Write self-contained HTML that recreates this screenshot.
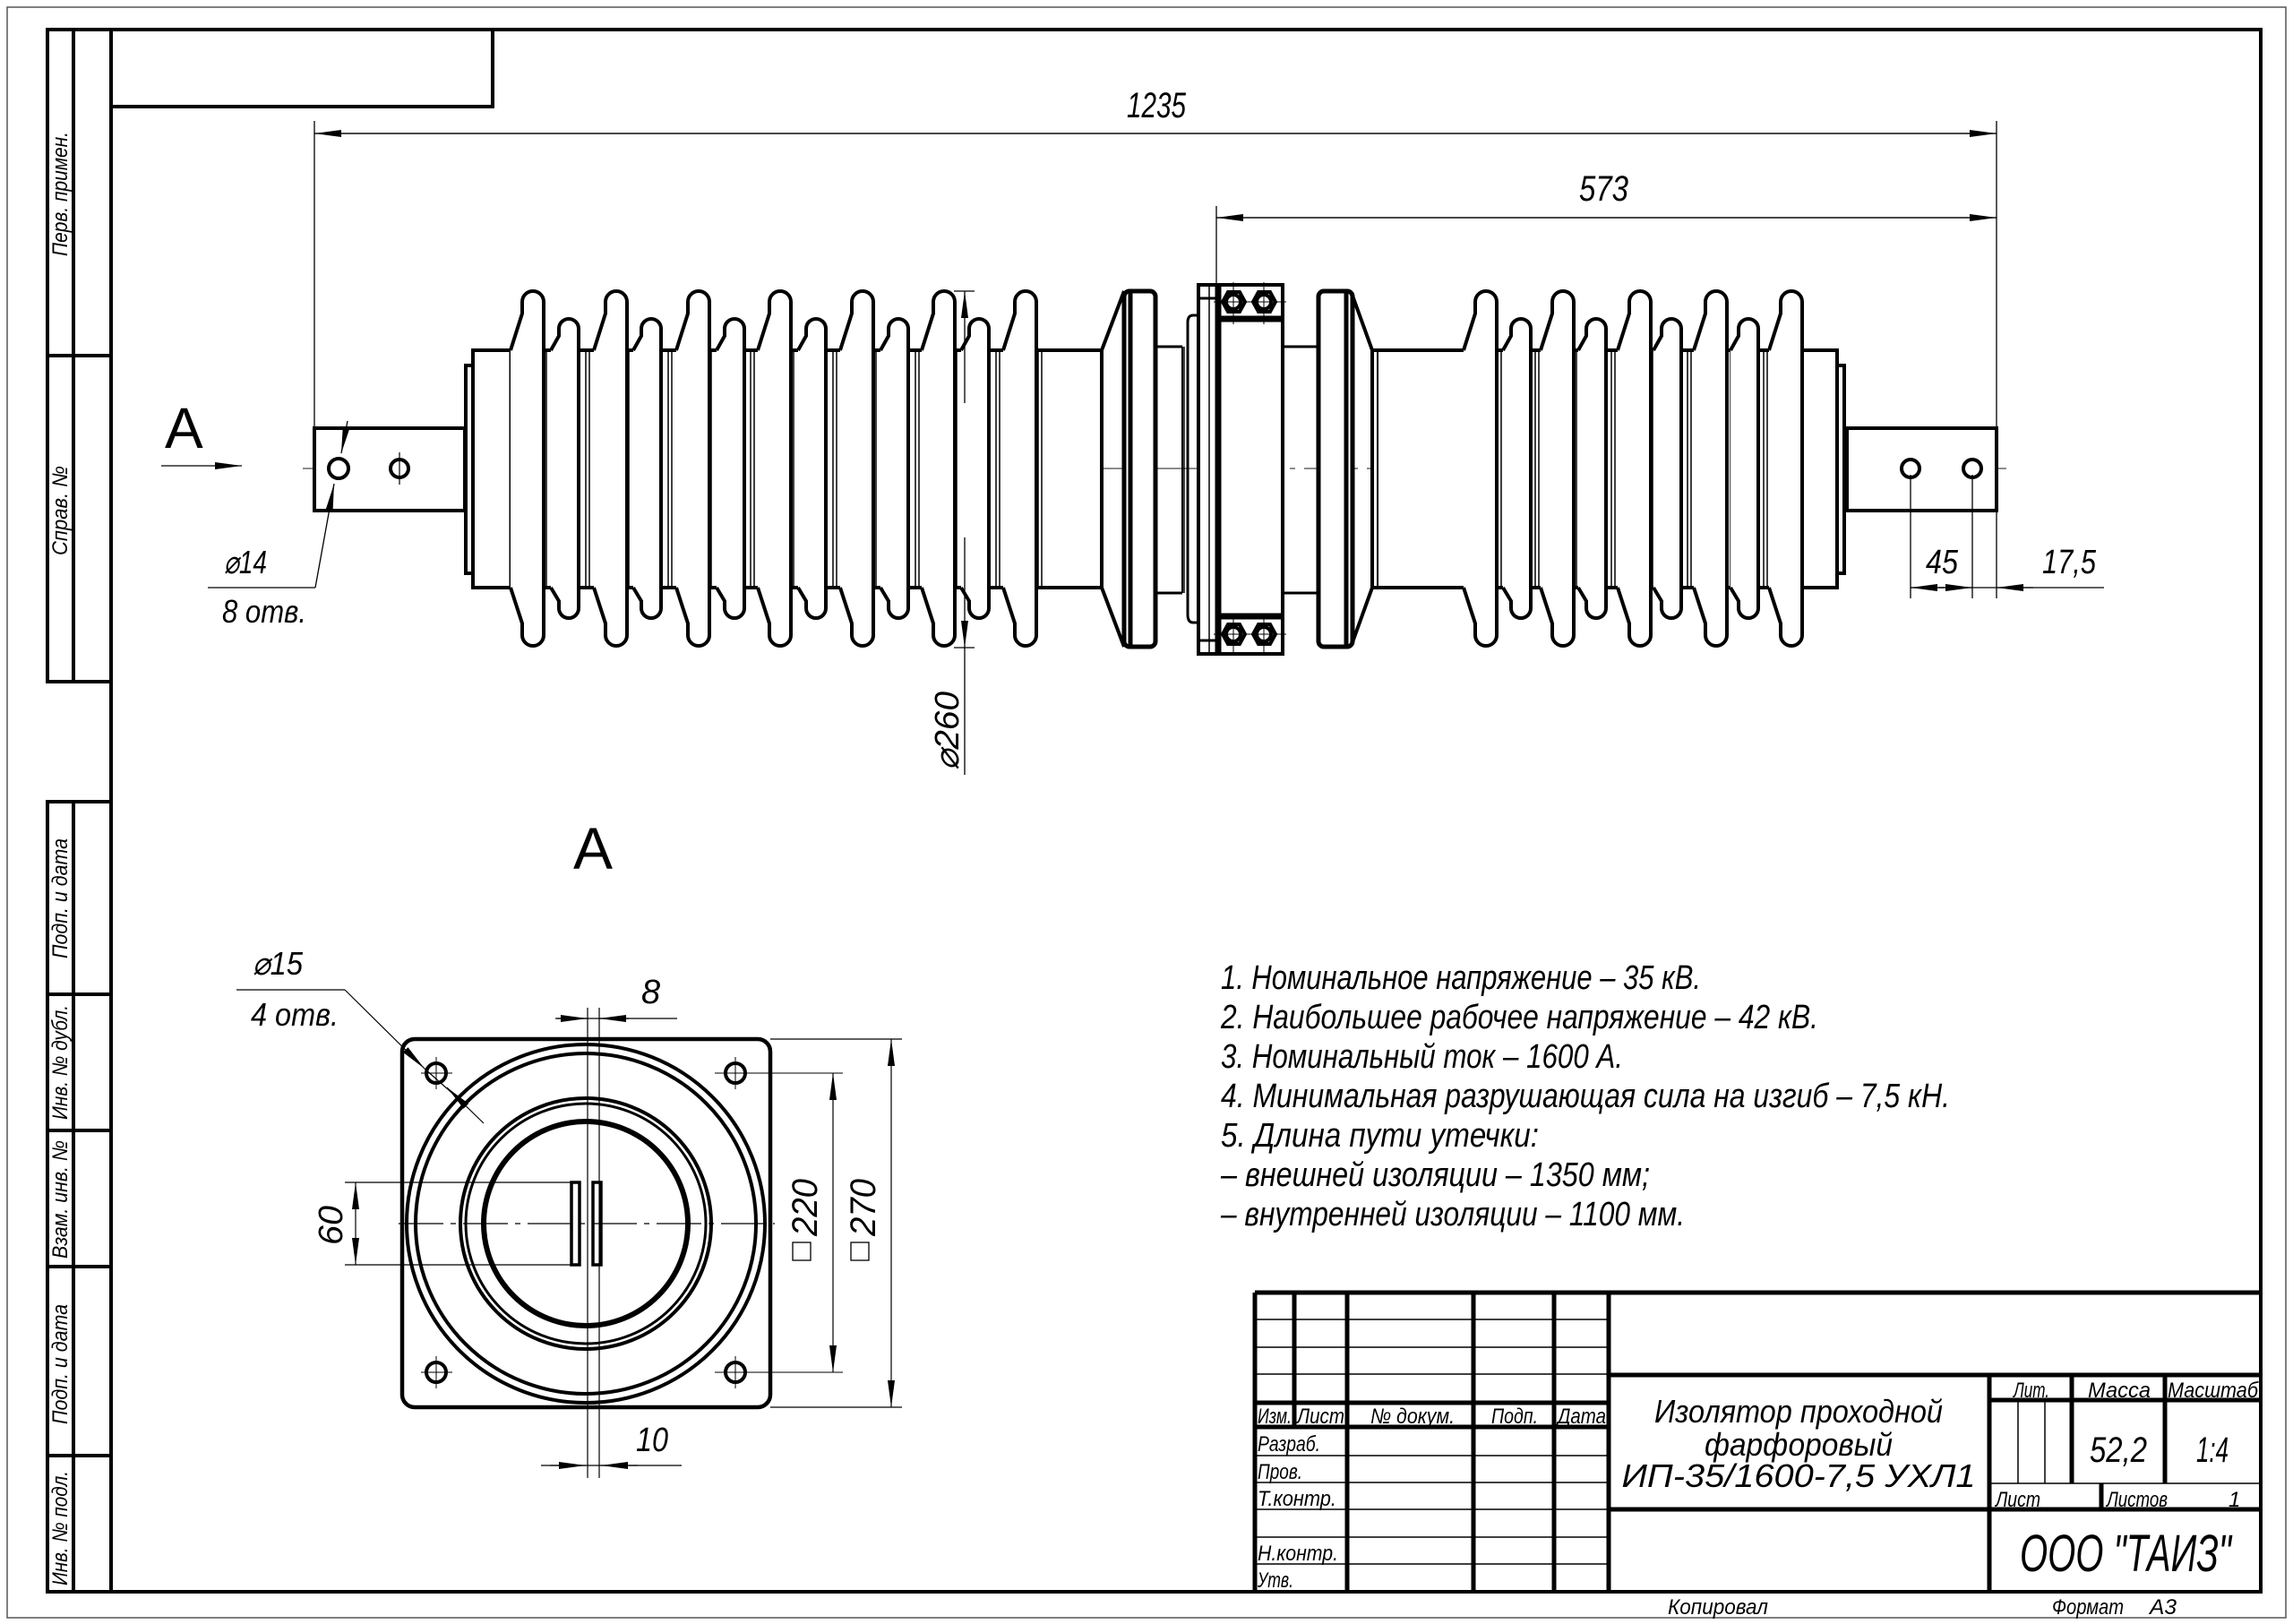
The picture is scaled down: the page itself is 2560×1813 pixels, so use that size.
<!DOCTYPE html>
<html><head><meta charset="utf-8"><style>
html,body{margin:0;padding:0;background:#fff}
svg{display:block}
text{font-family:"Liberation Sans Narrow","Liberation Sans",sans-serif;font-style:italic;fill:#000}
</style></head><body>
<svg width="2560" height="1813" viewBox="0 0 2560 1813" xmlns="http://www.w3.org/2000/svg">
<defs>
<path id="big" d="M-25 391 L-12 350 L-12 337 A12 12 0 0 1 12 337 L12 709 A12 12 0 0 1 -12 709 L-12 696 L-25 656" fill="#fff" stroke="#000" stroke-width="4"/>
<path id="sm" d="M-20 391 L-11 375 L-11 367 A11 11 0 0 1 11 367 L11 679 A11 11 0 0 1 -11 679 L-11 671 L-20 656" fill="#fff" stroke="#000" stroke-width="4"/>
<g id="rib"><line x1="-6" y1="391" x2="-6" y2="656" stroke="#000" stroke-width="1.5"/><line x1="-2" y1="391" x2="-2" y2="656" stroke="#000" stroke-width="1.5"/></g>
<marker id="ar" viewBox="0 0 30 10" refX="30" refY="5" markerWidth="30" markerHeight="10" markerUnits="userSpaceOnUse" orient="auto"><path d="M0 1 L30 5 L0 9 Z" fill="#000"/></marker>
</defs>
<g fill="none" stroke="#000">
<!-- sheet border -->
<rect x="8" y="8" width="2544" height="1798" stroke-width="1.5" stroke="#555"/>
<rect x="124" y="33" width="2400" height="1744" stroke-width="4"/>
<rect x="124" y="33" width="426" height="86" stroke-width="4"/>
<!-- left strips -->
<g stroke-width="4">
<rect x="53" y="33" width="71" height="728"/>
<line x1="82" y1="33" x2="82" y2="761"/>
<line x1="53" y1="397" x2="124" y2="397"/>
<rect x="53" y="895" width="71" height="882"/>
<line x1="82" y1="895" x2="82" y2="1777"/>
<line x1="53" y1="1110" x2="124" y2="1110"/>
<line x1="53" y1="1262" x2="124" y2="1262"/>
<line x1="53" y1="1414" x2="124" y2="1414"/>
<line x1="53" y1="1625" x2="124" y2="1625"/>
</g>

<!-- centerline -->
<line x1="338" y1="523" x2="2240" y2="523" stroke-width="1.5" stroke="#666" stroke-dasharray="60 10 6 10"/>

<!-- left lug -->
<rect x="351" y="478" width="168" height="92" stroke-width="4" fill="#fff"/>
<circle cx="378" cy="523" r="11" stroke-width="4"/>
<circle cx="446" cy="523" r="10" stroke-width="4"/>
<line x1="446" y1="505" x2="446" y2="541" stroke-width="1.2"/>
<rect x="520" y="408" width="8" height="232" stroke-width="4" fill="#fff"/>
<!-- left core -->
<rect x="528" y="391" width="702" height="265" stroke-width="4" fill="#fff"/>
<line x1="570" y1="391" x2="570" y2="656" stroke-width="3"/>
<line x1="1230" y1="391" x2="1230" y2="656" stroke-width="2"/>
<path d="M1230 391 L1255 325 M1230 656 L1255 722" stroke-width="4"/>
<g>
<use href="#rib" x="612"/><use href="#rib" x="660"/><use href="#rib" x="704"/><use href="#rib" x="752"/><use href="#rib" x="796"/><use href="#rib" x="844"/><use href="#rib" x="888"/><use href="#rib" x="936"/><use href="#rib" x="980"/><use href="#rib" x="1028"/><use href="#rib" x="1070"/><use href="#rib" x="1118"/><use href="#rib" x="1165"/>
<use href="#big" x="595"/><use href="#big" x="688"/><use href="#big" x="780"/><use href="#big" x="871"/><use href="#big" x="963"/><use href="#big" x="1054"/><use href="#big" x="1145"/>
<use href="#sm" x="635"/><use href="#sm" x="727"/><use href="#sm" x="820"/><use href="#sm" x="911"/><use href="#sm" x="1003"/><use href="#sm" x="1093"/>
</g>
<!-- left flange -->
<rect x="1255" y="325" width="35" height="397" rx="6" stroke-width="5" fill="#fff"/>
<line x1="1262" y1="325" x2="1262" y2="722" stroke-width="5"/>
<!-- middle shaft -->
<path d="M1290 387 L1320 387 M1290 662 L1320 662" stroke-width="3"/>
<path d="M1320 387 L1320 662" stroke-width="2"/>
<path d="M1340 352 L1332 352 Q1326 352 1326 360 L1326 686 Q1326 695 1332 695 L1340 695" stroke-width="3"/>
<line x1="1322" y1="387" x2="1322" y2="662" stroke-width="1.5"/>
<!-- clamp -->
<rect x="1338" y="318" width="94" height="412" stroke-width="4" fill="#fff"/>
<line x1="1360" y1="318" x2="1360" y2="730" stroke-width="7"/>
<line x1="1350" y1="318" x2="1350" y2="730" stroke-width="1.5"/>
<line x1="1338" y1="333" x2="1360" y2="333" stroke-width="3"/>
<line x1="1338" y1="715" x2="1360" y2="715" stroke-width="3"/>
<line x1="1360" y1="356" x2="1432" y2="356" stroke-width="7"/>
<line x1="1360" y1="688" x2="1432" y2="688" stroke-width="7"/>
<g stroke-width="4">
<polygon points="1365,337 1371,326 1384,326 1390,337 1384,348 1371,348"/><circle cx="1377" cy="337" r="8"/>
<polygon points="1399,337 1405,326 1418,326 1424,337 1418,348 1405,348"/><circle cx="1411" cy="337" r="8"/>
<polygon points="1365,708 1371,697 1384,697 1390,708 1384,719 1371,719"/><circle cx="1377" cy="708" r="8"/>
<polygon points="1399,708 1405,697 1418,697 1424,708 1418,719 1405,719"/><circle cx="1411" cy="708" r="8"/>
</g>
<g stroke-width="1"><line x1="1377" y1="315" x2="1377" y2="362"/><line x1="1411" y1="315" x2="1411" y2="362"/><line x1="1355" y1="337" x2="1436" y2="337"/>
<line x1="1377" y1="686" x2="1377" y2="732"/><line x1="1411" y1="686" x2="1411" y2="732"/><line x1="1355" y1="708" x2="1436" y2="708"/></g>
<path d="M1432 387 L1472 387 M1432 662 L1472 662" stroke-width="3"/>
<!-- right flange -->
<rect x="1472" y="325" width="38" height="397" rx="6" stroke-width="5" fill="#fff"/>
<line x1="1503" y1="325" x2="1503" y2="722" stroke-width="5"/>
<path d="M1510 330 L1532 391 M1510 717 L1532 656" stroke-width="4"/>
<!-- right core -->
<rect x="1532" y="391" width="519" height="265" stroke-width="4" fill="#fff"/>
<line x1="1538" y1="391" x2="1538" y2="656" stroke-width="2"/>
<line x1="1635" y1="391" x2="1635" y2="656" stroke-width="2"/>
<g>
<use href="#rib" x="1678"/><use href="#rib" x="1720"/><use href="#rib" x="1762"/><use href="#rib" x="1805"/><use href="#rib" x="1848"/><use href="#rib" x="1890"/><use href="#rib" x="1934"/><use href="#rib" x="1975"/>
<use href="#big" x="1659"/><use href="#big" x="1745"/><use href="#big" x="1831"/><use href="#big" x="1916"/><use href="#big" x="2000"/>
<use href="#sm" x="1698"/><use href="#sm" x="1782"/><use href="#sm" x="1866"/><use href="#sm" x="1952"/>
</g>
<rect x="2051" y="408" width="8" height="232" stroke-width="4" fill="#fff"/>
<rect x="2062" y="478" width="167" height="92" stroke-width="4" fill="#fff"/>
<circle cx="2133" cy="523" r="10" stroke-width="4"/>
<circle cx="2202" cy="523" r="10" stroke-width="4"/>

<!-- dimensions -->
<g stroke-width="1.3">
<line x1="351" y1="135" x2="351" y2="478"/>
<line x1="2229" y1="135" x2="2229" y2="668"/>
<line x1="351" y1="149" x2="2229" y2="149" marker-end="url(#ar)"/>
<line x1="2229" y1="149" x2="351" y2="149" marker-end="url(#ar)"/>
<line x1="1358" y1="230" x2="1358" y2="318"/>
<line x1="1358" y1="243" x2="2229" y2="243" marker-end="url(#ar)"/>
<line x1="2229" y1="243" x2="1358" y2="243" marker-end="url(#ar)"/>
<!-- 45 / 17.5 -->
<line x1="2133" y1="530" x2="2133" y2="668"/>
<line x1="2202" y1="530" x2="2202" y2="668"/>
<line x1="2133" y1="656" x2="2349" y2="656"/>
<line x1="2170" y1="656" x2="2133" y2="656" marker-end="url(#ar)"/>
<line x1="2165" y1="656" x2="2202" y2="656" marker-end="url(#ar)"/>
<line x1="2270" y1="656" x2="2229" y2="656" marker-end="url(#ar)"/>
<!-- Φ260 -->
<line x1="1065" y1="325" x2="1088" y2="325"/>
<line x1="1065" y1="723" x2="1088" y2="723"/>
<line x1="1077" y1="723" x2="1077" y2="865"/>
<line x1="1077" y1="450" x2="1077" y2="325" marker-end="url(#ar)"/>
<line x1="1077" y1="600" x2="1077" y2="723" marker-end="url(#ar)"/>
<!-- Φ14 leader -->
<line x1="232" y1="656" x2="352" y2="656"/>
<line x1="352" y1="656" x2="373" y2="540" marker-end="url(#ar)"/>
<line x1="388" y1="470" x2="381" y2="506" marker-end="url(#ar)"/>
<!-- A arrow -->
<line x1="180" y1="520" x2="270" y2="520" marker-end="url(#ar)"/>
</g>

<!-- View A -->
<rect x="449" y="1160" width="411" height="411" rx="14" stroke-width="4.5"/>
<circle cx="654" cy="1366" r="200" stroke-width="4"/>
<circle cx="654" cy="1366" r="190" stroke-width="4"/>
<circle cx="654" cy="1366" r="140" stroke-width="4"/>
<circle cx="654" cy="1366" r="134" stroke-width="3"/>
<circle cx="654" cy="1366" r="114" stroke-width="6"/>
<g stroke-width="4"><circle cx="487" cy="1198" r="11"/><circle cx="821" cy="1198" r="11"/><circle cx="487" cy="1532" r="11"/><circle cx="821" cy="1532" r="11"/></g>
<g stroke-width="1"><line x1="470" y1="1198" x2="505" y2="1198"/><line x1="487" y1="1180" x2="487" y2="1216"/>
<line x1="798" y1="1198" x2="941" y2="1198"/><line x1="821" y1="1180" x2="821" y2="1216"/>
<line x1="470" y1="1532" x2="505" y2="1532"/><line x1="487" y1="1514" x2="487" y2="1550"/>
<line x1="798" y1="1532" x2="941" y2="1532"/><line x1="821" y1="1514" x2="821" y2="1550"/></g>
<rect x="638" y="1320" width="9" height="92" stroke-width="3.5"/>
<rect x="662" y="1320" width="9" height="92" stroke-width="3.5"/>
<g stroke-width="1.2">
<line x1="445" y1="1366" x2="865" y2="1366" stroke-dasharray="50 8 6 8"/>
<line x1="656" y1="1125" x2="656" y2="1650"/>
<line x1="669" y1="1125" x2="669" y2="1650"/>
<line x1="385" y1="1320" x2="640" y2="1320"/>
<line x1="385" y1="1412" x2="640" y2="1412"/>
<line x1="397" y1="1366" x2="397" y2="1320" marker-end="url(#ar)"/>
<line x1="397" y1="1366" x2="397" y2="1412" marker-end="url(#ar)"/>
<line x1="860" y1="1160" x2="1007" y2="1160"/>
<line x1="860" y1="1571" x2="1007" y2="1571"/>
<line x1="930" y1="1366" x2="930" y2="1198" marker-end="url(#ar)"/>
<line x1="930" y1="1366" x2="930" y2="1532" marker-end="url(#ar)"/>
<line x1="995" y1="1366" x2="995" y2="1160" marker-end="url(#ar)"/>
<line x1="995" y1="1366" x2="995" y2="1571" marker-end="url(#ar)"/>
<line x1="620" y1="1137" x2="756" y2="1137"/>
<line x1="622" y1="1137" x2="656" y2="1137" marker-end="url(#ar)"/>
<line x1="702" y1="1137" x2="669" y2="1137" marker-end="url(#ar)"/>
<line x1="604" y1="1636" x2="761" y2="1636"/>
<line x1="614" y1="1636" x2="654" y2="1636" marker-end="url(#ar)"/>
<line x1="712" y1="1636" x2="671" y2="1636" marker-end="url(#ar)"/>
<line x1="264" y1="1105" x2="385" y2="1105"/>
<line x1="385" y1="1105" x2="474" y2="1193" marker-end="url(#ar)"/>
<line x1="474" y1="1193" x2="518" y2="1232"/>
<line x1="540" y1="1254" x2="499" y2="1214" marker-end="url(#ar)"/>
</g>
<rect x="885" y="1387" width="20" height="20" stroke-width="1.3"/>
<rect x="950" y="1387" width="20" height="20" stroke-width="1.3"/>

<!-- title block -->
<g stroke-width="5">
<line x1="1401" y1="1443" x2="2524" y2="1443"/>
<line x1="1401" y1="1443" x2="1401" y2="1777"/>
<line x1="1445" y1="1443" x2="1445" y2="1593"/>
<line x1="1504" y1="1443" x2="1504" y2="1777"/>
<line x1="1645" y1="1443" x2="1645" y2="1777"/>
<line x1="1735" y1="1443" x2="1735" y2="1777"/>
<line x1="1796" y1="1443" x2="1796" y2="1777"/>
<line x1="1401" y1="1566" x2="1796" y2="1566"/>
<line x1="1401" y1="1593" x2="1796" y2="1593"/>
<line x1="1796" y1="1535" x2="2524" y2="1535"/>
<line x1="2221" y1="1535" x2="2221" y2="1777"/>
<line x1="2221" y1="1563" x2="2524" y2="1563"/>
<line x1="2313" y1="1535" x2="2313" y2="1656"/>
<line x1="2417" y1="1535" x2="2417" y2="1656"/>
<line x1="2346" y1="1656" x2="2346" y2="1685"/>
<line x1="1796" y1="1685" x2="2524" y2="1685"/>
</g>
<g stroke-width="1.5">
<line x1="1401" y1="1473" x2="1796" y2="1473"/>
<line x1="1401" y1="1504" x2="1796" y2="1504"/>
<line x1="1401" y1="1534" x2="1796" y2="1534"/>
<line x1="1401" y1="1625" x2="1796" y2="1625"/>
<line x1="1401" y1="1655" x2="1796" y2="1655"/>
<line x1="1401" y1="1685" x2="1796" y2="1685"/>
<line x1="1401" y1="1716" x2="1796" y2="1716"/>
<line x1="1401" y1="1746" x2="1796" y2="1746"/>
<line x1="2221" y1="1656" x2="2524" y2="1656"/>
<line x1="2253" y1="1563" x2="2253" y2="1656"/>
<line x1="2283" y1="1563" x2="2283" y2="1656"/>
</g>
</g>

<!-- texts -->
<text x="1258" y="131" font-size="40" textLength="66" lengthAdjust="spacingAndGlyphs">1235</text>
<text x="1763" y="224" font-size="40" textLength="55" lengthAdjust="spacingAndGlyphs">573</text>
<text x="2150" y="640" font-size="38" textLength="36" lengthAdjust="spacingAndGlyphs">45</text>
<text x="2280" y="640" font-size="38" textLength="60" lengthAdjust="spacingAndGlyphs">17,5</text>
<text transform="translate(1070,860) rotate(-90)" font-size="38" textLength="88" lengthAdjust="spacingAndGlyphs">⌀260</text>
<text x="250" y="640" font-size="36" textLength="48" lengthAdjust="spacingAndGlyphs">⌀14</text>
<text x="248" y="695" font-size="36" textLength="94" lengthAdjust="spacingAndGlyphs">8 отв.</text>
<text x="184" y="500" font-size="64" font-style="normal" style="font-style:normal">A</text>
<text x="640" y="970" font-size="66" style="font-style:normal">A</text>
<text x="282" y="1088" font-size="36" textLength="56" lengthAdjust="spacingAndGlyphs">⌀15</text>
<text x="280" y="1145" font-size="36" textLength="98" lengthAdjust="spacingAndGlyphs">4 отв.</text>
<text x="716" y="1120" font-size="38">8</text>
<text x="710" y="1620" font-size="38" textLength="36" lengthAdjust="spacingAndGlyphs">10</text>
<text transform="translate(382,1390) rotate(-90)" font-size="38" textLength="44" lengthAdjust="spacingAndGlyphs">60</text>
<text transform="translate(912,1380) rotate(-90)" font-size="40" textLength="64" lengthAdjust="spacingAndGlyphs">220</text>
<text transform="translate(977,1380) rotate(-90)" font-size="40" textLength="64" lengthAdjust="spacingAndGlyphs">270</text>

<g font-size="38">
<text x="1363" y="1104" textLength="536" lengthAdjust="spacingAndGlyphs">1. Номинальное напряжение – 35 кВ.</text>
<text x="1363" y="1148" textLength="667" lengthAdjust="spacingAndGlyphs">2. Наибольшее рабочее напряжение – 42 кВ.</text>
<text x="1363" y="1192" textLength="449" lengthAdjust="spacingAndGlyphs">3. Номинальный ток – 1600 А.</text>
<text x="1363" y="1236" textLength="814" lengthAdjust="spacingAndGlyphs">4. Минимальная разрушающая сила на изгиб – 7,5 кН.</text>
<text x="1363" y="1280" textLength="355" lengthAdjust="spacingAndGlyphs">5.  Длина пути утечки:</text>
<text x="1363" y="1324" textLength="479" lengthAdjust="spacingAndGlyphs">– внешней изоляции – 1350 мм;</text>
<text x="1363" y="1368" textLength="518" lengthAdjust="spacingAndGlyphs">– внутренней изоляции – 1100 мм.</text>
</g>

<!-- left strip labels -->
<g font-size="24">
<text transform="translate(75,286) rotate(-90)" textLength="139" lengthAdjust="spacingAndGlyphs">Перв. примен.</text>
<text transform="translate(75,620) rotate(-90)" textLength="100" lengthAdjust="spacingAndGlyphs">Справ. №</text>
<text transform="translate(75,1070) rotate(-90)" textLength="134" lengthAdjust="spacingAndGlyphs">Подп. и дата</text>
<text transform="translate(75,1250) rotate(-90)" textLength="128" lengthAdjust="spacingAndGlyphs">Инв. № дубл.</text>
<text transform="translate(75,1405) rotate(-90)" textLength="132" lengthAdjust="spacingAndGlyphs">Взам. инв. №</text>
<text transform="translate(75,1590) rotate(-90)" textLength="134" lengthAdjust="spacingAndGlyphs">Подп. и дата</text>
<text transform="translate(75,1770) rotate(-90)" textLength="128" lengthAdjust="spacingAndGlyphs">Инв. № подл.</text>
</g>

<!-- title block text -->
<g font-size="24">
<text x="1404" y="1589" textLength="38" lengthAdjust="spacingAndGlyphs">Изм.</text>
<text x="1448" y="1589" textLength="53" lengthAdjust="spacingAndGlyphs">Лист</text>
<text x="1530" y="1589" textLength="94" lengthAdjust="spacingAndGlyphs">№ докум.</text>
<text x="1665" y="1589" textLength="52" lengthAdjust="spacingAndGlyphs">Подп.</text>
<text x="1739" y="1589" textLength="54" lengthAdjust="spacingAndGlyphs">Дата</text>
<text x="1404" y="1620" textLength="70" lengthAdjust="spacingAndGlyphs">Разраб.</text>
<text x="1404" y="1651" textLength="50" lengthAdjust="spacingAndGlyphs">Пров.</text>
<text x="1404" y="1681" textLength="88" lengthAdjust="spacingAndGlyphs">Т.контр.</text>
<text x="1404" y="1742" textLength="90" lengthAdjust="spacingAndGlyphs">Н.контр.</text>
<text x="1404" y="1772" textLength="40" lengthAdjust="spacingAndGlyphs">Утв.</text>
<text x="2248" y="1560" textLength="40" lengthAdjust="spacingAndGlyphs">Лит.</text>
<text x="2331" y="1560" textLength="70" lengthAdjust="spacingAndGlyphs">Масса</text>
<text x="2420" y="1560" textLength="101" lengthAdjust="spacingAndGlyphs">Масштаб</text>
<text x="2228" y="1682" textLength="50" lengthAdjust="spacingAndGlyphs">Лист</text>
<text x="2352" y="1682" textLength="68" lengthAdjust="spacingAndGlyphs">Листов</text>
<text x="2488" y="1682">1</text>
<text x="1862" y="1802" textLength="112" lengthAdjust="spacingAndGlyphs">Копировал</text>
<text x="2291" y="1802" textLength="80" lengthAdjust="spacingAndGlyphs">Формат</text>
<text x="2400" y="1802" textLength="30" lengthAdjust="spacingAndGlyphs">А3</text>
</g>
<g font-size="36" text-anchor="middle">
<text x="2008" y="1588" textLength="322" lengthAdjust="spacingAndGlyphs">Изолятор проходной</text>
<text x="2008" y="1625" textLength="210" lengthAdjust="spacingAndGlyphs">фарфоровый</text>
<text x="2008" y="1660" textLength="395" lengthAdjust="spacingAndGlyphs">ИП-35/1600-7,5 УХЛ1</text>
</g>
<text x="2365" y="1632" font-size="40" text-anchor="middle" textLength="64" lengthAdjust="spacingAndGlyphs">52,2</text>
<text x="2470" y="1632" font-size="40" text-anchor="middle" textLength="36" lengthAdjust="spacingAndGlyphs">1:4</text>
<text x="2373" y="1754" font-size="58" text-anchor="middle" textLength="236" lengthAdjust="spacingAndGlyphs">ООО "ТАИЗ"</text>
</svg>
</body></html>
